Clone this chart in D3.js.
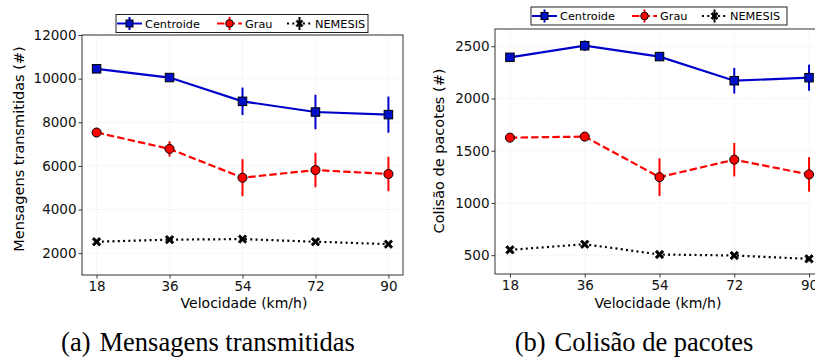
<!DOCTYPE html>
<html>
<head>
<meta charset="utf-8">
<script src="https://cdn.jsdelivr.net/npm/d3@7"></script>
<style>
  body { margin: 0; background: #fff; }
  svg { display: block; }
  .tick text { font-family: "DejaVu Sans", sans-serif; }
</style>
</head>
<body>
<div id="chart"></div>
<script>
// velocities (km/h)
const speeds = [18, 36, 54, 72, 90];

// panel (a) Mensagens transmitidas
const msgCentroide = [10450, 10050, 8960, 8470, 8350];
const msgCentroideErr = [80, 80, 630, 790, 830];
const msgGrau = [7530, 6780, 5460, 5810, 5630];
const msgGrauErr = [80, 350, 850, 790, 790];
const msgNemesis = [2525, 2620, 2645, 2525, 2415];
const msgNemesisErr = [40, 40, 40, 40, 40];
const msgTicks = [2000, 4000, 6000, 8000, 10000, 12000];

// panel (b) Colisão de pacotes
const colCentroide = [2394, 2505, 2401, 2170, 2199];
const colCentroideErr = [15, 50, 30, 123, 125];
const colGrau = [1625, 1635, 1247, 1414, 1273];
const colGrauErr = [10, 10, 180, 160, 165];
const colNemesis = [551, 605, 507, 497, 465];
const colNemesisErr = [10, 10, 10, 10, 10];
const colTicks = [500, 1000, 1500, 2000, 2500];

const seriesNames = ["Centroide", "Grau", "NEMESIS"];

const W = 815, H = 358;
const svg = d3.select("#chart").append("svg")
    .attr("width", W)
    .attr("height", H);

const styles = {
    Centroide: { color: "#0000cc", fill: "#0010c8", dash: null, marker: "square" },
    Grau: { color: "#ff0000", fill: "#ff0000", dash: "7.4,3.2", marker: "circle" },
    NEMESIS: { color: "#000000", fill: "#000000", dash: "2,3.3", marker: "x" }
};

// filled X marker path
function xPath(s) {
    const a = s / 2, b = s / 5;
    return `M${-a},${-a + b} L${-a + b},${-a} L0,${-b} L${a - b},${-a} L${a},${-a + b} L${b},0 ` +
        `L${a},${a - b} L${a - b},${a} L0,${b} L${-a + b},${a} L${-a},${a - b} L${-b},0 Z`;
}

function drawMarker(g, type, st, size) {
    const h = size / 2;
    if (type === "square") {
        g.append("rect").attr("x", -h).attr("y", -h).attr("width", size).attr("height", size)
            .attr("fill", st.fill).attr("stroke", "#000").attr("stroke-width", 1);
    } else if (type === "circle") {
        g.append("circle").attr("r", h + 0.3)
            .attr("fill", st.fill).attr("stroke", "#000").attr("stroke-width", 1);
    } else {
        g.append("path").attr("d", xPath(size))
            .attr("fill", "#000").attr("stroke", "#000").attr("stroke-width", 0.8);
    }
}

function drawPanel(cfg) {
    const x = d3.scaleLinear().domain([14.4, 93.6]).range([cfg.left, cfg.right]);
    const y = d3.scaleLinear().domain(cfg.yDomain).range([cfg.bottom, cfg.top]);

    const g = svg.append("g");

    // grid
    g.append("g").selectAll("line.vg").data(speeds).enter().append("line")
        .attr("x1", d => x(d)).attr("x2", d => x(d))
        .attr("y1", cfg.top).attr("y2", cfg.bottom)
        .attr("stroke", "#e3e3e3").attr("stroke-width", 0.8).attr("stroke-dasharray", "1,1.6");
    g.append("g").selectAll("line.hg").data(cfg.ticks).enter().append("line")
        .attr("x1", cfg.left).attr("x2", cfg.right)
        .attr("y1", d => y(d)).attr("y2", d => y(d))
        .attr("stroke", "#e3e3e3").attr("stroke-width", 0.8).attr("stroke-dasharray", "1,1.6");

    // series
    cfg.series.forEach(s => {
        const st = styles[s.name];
        const pts = speeds.map((v, i) => ({ x: v, y: s.values[i], e: s.err[i] }));
        g.append("g").selectAll("line").data(pts).enter().append("line")
            .attr("x1", d => x(d.x)).attr("x2", d => x(d.x))
            .attr("y1", d => y(d.y - d.e)).attr("y2", d => y(d.y + d.e))
            .attr("stroke", st.color).attr("stroke-width", 2);
        g.append("path").datum(pts)
            .attr("d", d3.line().x(d => x(d.x)).y(d => y(d.y)))
            .attr("fill", "none").attr("stroke", st.color).attr("stroke-width", 2.2)
            .attr("stroke-dasharray", st.dash);
        pts.forEach(d => {
            const mg = g.append("g").attr("transform", `translate(${x(d.x)},${y(d.y)})`);
            drawMarker(mg, st.marker, st, 8.5);
        });
    });

    // frame
    g.append("rect")
        .attr("x", cfg.left).attr("y", cfg.top)
        .attr("width", cfg.right - cfg.left).attr("height", cfg.bottom - cfg.top)
        .attr("fill", "none").attr("stroke", "#333").attr("stroke-width", 1);

    // axes
    const xa = g.append("g").attr("transform", `translate(0,${cfg.bottom})`)
        .call(d3.axisBottom(x).tickValues(speeds).tickSize(3.5).tickPadding(3).tickFormat(d3.format("d")));
    const ya = g.append("g").attr("transform", `translate(${cfg.left},0)`)
        .call(d3.axisLeft(y).tickValues(cfg.ticks).tickSize(3.5).tickPadding(2).tickFormat(d3.format("d")));
    [xa, ya].forEach(a => {
        a.select(".domain").remove();
        a.selectAll(".tick line").attr("stroke", "#333");
        a.selectAll(".tick text").attr("fill", "#111").style("font-size", "13.5px");
    });

    // axis titles
    g.append("text")
        .attr("transform", `translate(${cfg.yLabelX},${cfg.yLabelY}) rotate(-90)`)
        .attr("text-anchor", "middle").attr("dy", "0.35em")
        .style("font-family", "DejaVu Sans, sans-serif").style("font-size", "14.5px")
        .text(cfg.yLabel);
    g.append("text")
        .attr("x", cfg.xLabelX).attr("y", 308)
        .attr("text-anchor", "middle")
        .style("font-family", "DejaVu Sans, sans-serif").style("font-size", "14px")
        .text("Velocidade (km/h)");

    // legend
    const lg = g.append("g").attr("transform", `translate(${cfg.legendX},${cfg.legendY})`);
    lg.append("rect").attr("width", cfg.legendW).attr("height", 18)
        .attr("fill", "#fff").attr("stroke", "#222").attr("stroke-width", 1);
    const offsets = [1, 101, 171];
    seriesNames.forEach((name, i) => {
        const st = styles[name];
        const e = lg.append("g").attr("transform", `translate(${offsets[i]},9)`);
        e.append("line").attr("x1", 0).attr("x2", 25).attr("y1", 0).attr("y2", 0)
            .attr("stroke", st.color).attr("stroke-width", 2).attr("stroke-dasharray", st.dash);
        e.append("line").attr("x1", 12.5).attr("x2", 12.5).attr("y1", -6.5).attr("y2", 6.5)
            .attr("stroke", st.color).attr("stroke-width", 2);
        const mg = e.append("g").attr("transform", "translate(12.5,0)");
        drawMarker(mg, st.marker, st, 7);
        e.append("text").attr("x", 28).attr("dy", "0.36em")
            .style("font-family", "DejaVu Sans, sans-serif").style("font-size", "11.3px")
            .text(name);
    });

    // caption
    const cap = svg.append("text")
        .attr("x", cfg.captionX).attr("y", 351)
        .attr("text-anchor", "middle")
        .style("font-family", "Liberation Serif, Times New Roman, serif").style("font-size", "26.5px");
    cap.append("tspan").text(cfg.captionTag);
    cap.append("tspan").attr("dx", 9).text(cfg.caption);
}

drawPanel({
    left: 82, right: 403, top: 35, bottom: 275,
    yDomain: [1000, 12000], ticks: msgTicks,
    yLabel: "Mensagens transmitidas (#)", yLabelX: 19, yLabelY: 149, xLabelX: 244,
    legendX: 116, legendY: 14.5, legendW: 252,
    captionX: 208, captionTag: "(a)", caption: "Mensagens transmitidas",
    series: [
        { name: "Centroide", values: msgCentroide, err: msgCentroideErr },
        { name: "Grau", values: msgGrau, err: msgGrauErr },
        { name: "NEMESIS", values: msgNemesis, err: msgNemesisErr }
    ]
});

drawPanel({
    left: 495, right: 824, top: 29, bottom: 274,
    yDomain: [320, 2665], ticks: colTicks,
    yLabel: "Colisão de pacotes (#)", yLabelX: 439, yLabelY: 151, xLabelX: 658,
    legendX: 531, legendY: 7, legendW: 256,
    captionX: 634, captionTag: "(b)", caption: "Colisão de pacotes",
    series: [
        { name: "Centroide", values: colCentroide, err: colCentroideErr },
        { name: "Grau", values: colGrau, err: colGrauErr },
        { name: "NEMESIS", values: colNemesis, err: colNemesisErr }
    ]
});
</script>
</body>
</html>
